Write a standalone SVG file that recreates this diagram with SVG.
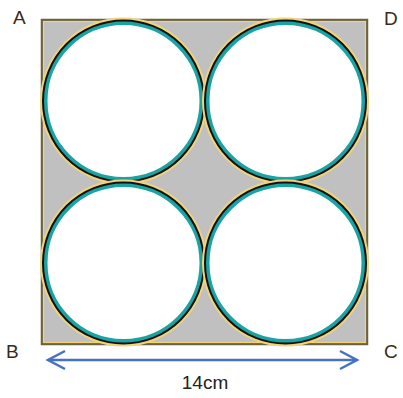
<svg xmlns="http://www.w3.org/2000/svg" width="403" height="398" viewBox="0 0 403 398">
<style>
.lbl{font-family:"Liberation Sans",Arial,sans-serif;font-size:19px;fill:#3a2a1a}
.c-out{fill:none;stroke:#f2d27a;stroke-width:5}
.c-teal{fill:#fff;stroke:#1aa3a3;stroke-width:4}
.c-blk{fill:none;stroke:#111;stroke-width:2}
.arr{stroke:#4472c4;stroke-width:2.5;fill:none}
</style>
<rect width="403" height="398" fill="#fff"/>
<g id="square">
<rect x="42" y="20" width="325" height="324" fill="#c0c0c0" stroke="#6b6240" stroke-width="2.5"/>
<rect x="43.5" y="21.5" width="322" height="321" fill="none" stroke="#f2d27a" stroke-width="1.2"/>
</g>
<defs>
<g id="circ">
<circle r="81" class="c-out"/>
<circle r="78" class="c-teal"/>
<circle r="80.5" class="c-blk"/>
</g>
</defs>
<g id="circle1"><use href="#circ" x="123.5" y="101"/></g>
<g id="circle2"><use href="#circ" x="285.5" y="101"/></g>
<g id="circle3"><use href="#circ" x="123.5" y="263"/></g>
<g id="circle4"><use href="#circ" x="285.5" y="263"/></g>
<g id="connectors">
<line x1="48" y1="360" x2="357" y2="360" class="arr"/>
<polyline points="65,351 48,360 65,369" class="arr"/>
<polyline points="340,351 357,360 340,369" class="arr"/>
</g>
<g id="labels">
<text x="13" y="24" class="lbl">A</text>
<text x="384" y="25" class="lbl">D</text>
<text x="6" y="358" class="lbl">B</text>
<text x="384" y="358" class="lbl">C</text>
<text x="205" y="389" class="lbl" text-anchor="middle" style="fill:#222">14cm</text>
</g>
</svg>
